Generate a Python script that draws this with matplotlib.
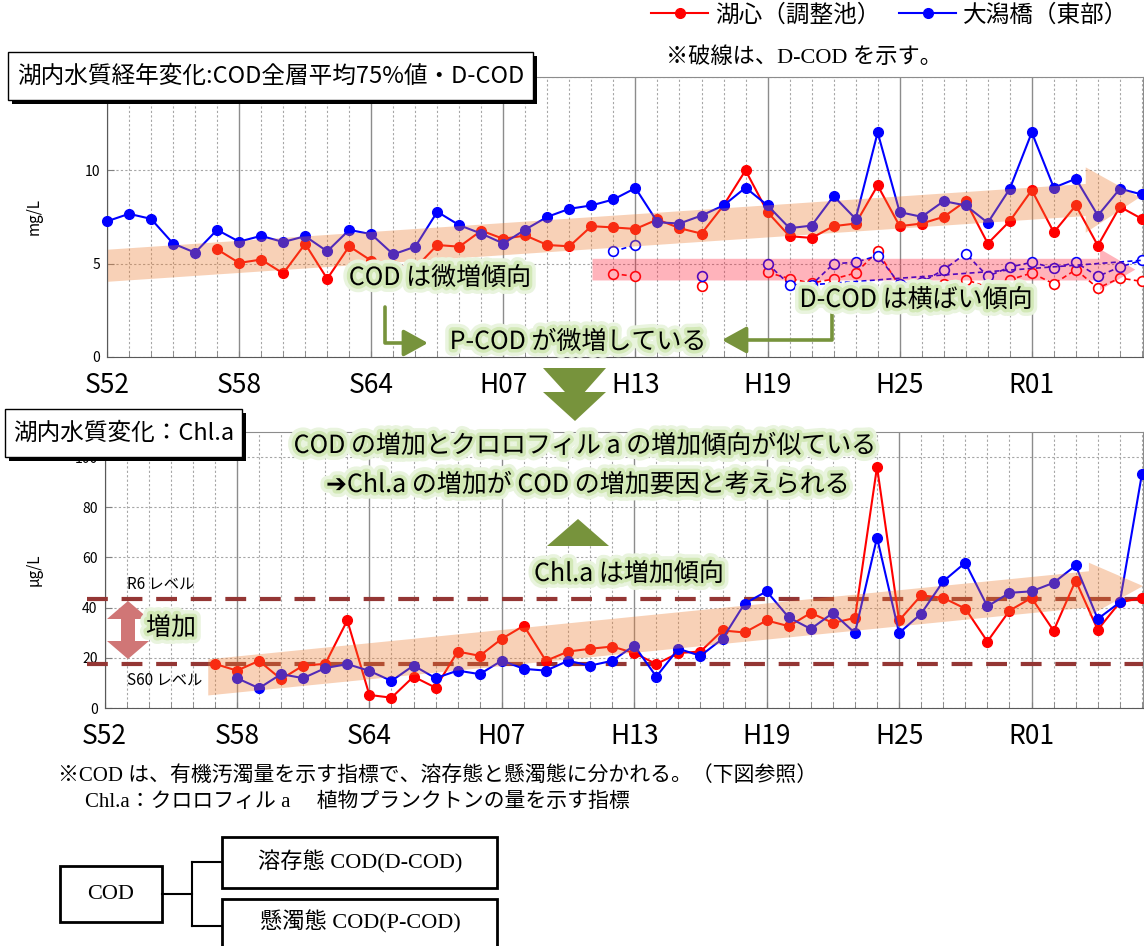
import numpy as np
import matplotlib.pyplot as plt
import matplotlib.patheffects as pe
from matplotlib.patches import Polygon, Rectangle, FancyArrowPatch

plt.rcParams['font.family'] = ['Noto Sans CJK JP', 'DejaVu Sans']
serif = ['Liberation Serif', 'Noto Sans CJK JP']

nan = np.nan
years = np.arange(1977, 2025)
tick_years = [1977, 1983, 1989, 1995, 2001, 2007, 2013, 2019]
tick_labels = ['S52', 'S58', 'S64', 'H07', 'H13', 'H19', 'H25', 'R01']
names = ['湖心（調整池）', '大潟橋（東部）']

# COD 全層平均75%値 (mg/L)
cod_red = [nan] * 5 + [5.77, 5.04, 5.22, 4.48, 6.06, 4.19, 5.93, 5.16, 4.91, 4.77,
                       6.00, 5.91, 6.77, 6.33, 6.51, 6.00, 5.93, 7.01, 6.94, 6.86,
                       7.37, 6.90, 6.61, 8.12, 10.0, 7.76, 6.47, 6.38, 7.01, 7.15,
                       9.19, 7.01, 7.15, 7.51, 8.35, 6.08, 7.28, 8.94, 6.68, 8.12,
                       5.97, 8.05, 7.40]
cod_blue = [7.27, 7.67, 7.40, 6.08, 5.59, 6.81, 6.18, 6.49, 6.16, 6.47,
            5.66, 6.81, 6.58, 5.50, 5.91, 7.78, 7.06, 6.61, 6.08, 6.83,
            7.51, 7.94, 8.12, 8.44, 9.05, 7.22, 7.15, 7.58, 8.12, 9.07,
            8.12, 6.90, 7.04, 8.62, 7.40, 12.03, 7.76, 7.51, 8.35, 8.12,
            7.19, 9.01, 12.03, 9.07, 9.55, 7.58, 9.01, 8.71]
# D-COD
dcod_red = [nan] * 23 + [4.46, 4.32, nan, nan, 3.82, nan, nan, 4.53, 4.20, 3.96,
                         4.18, 4.50, 5.66, 3.78, 3.92, 3.92, 4.14, 3.75, 4.14, 4.50,
                         3.92, 4.68, 3.69, 4.23, 4.05]
dcod_blue = [nan] * 23 + [5.66, 6.00, nan, nan, 4.32, nan, nan, 5.00, 3.87, 3.87,
                          5.00, 5.07, 5.43, 3.92, 4.00, 4.68, 5.54, 4.32, 4.82, 5.07,
                          4.77, 5.07, 4.32, 4.82, 5.18]
# Chl.a (μg/L)
chl_red = [nan] * 5 + [17.6, 14.9, 18.8, 11.5, 16.9, 17.6, 34.9, 5.2, 4.1, 12.5,
                       8.1, 22.5, 20.8, 27.6, 32.8, 18.8, 22.5, 23.6, 24.5, 21.9,
                       17.5, 21.9, 22.5, 30.9, 30.1, 34.9, 32.6, 37.9, 33.9, 35.9,
                       96.1, 34.9, 44.9, 43.9, 39.6, 26.5, 38.8, 43.9, 30.8, 50.8,
                       31.2, 42.1, 43.9]
chl_blue = [nan] * 6 + [11.9, 7.9, 13.5, 11.9, 15.9, 17.5, 14.8, 10.8, 16.9, 11.9,
                        14.9, 13.5, 18.9, 15.6, 14.9, 18.8, 16.9, 18.8, 24.9, 12.5,
                        23.6, 20.8, 27.6, 41.6, 46.5, 36.1, 31.5, 37.9, 29.9, 67.9,
                        29.9, 37.6, 50.5, 57.9, 40.5, 45.9, 46.5, 49.9, 56.8, 35.5,
                        42.1, 93.2]
r6_level = 43.6
s60_level = 17.6

W, H = 1144, 946
fig = plt.figure(figsize=(W / 100, H / 100), dpi=100)


def fp(x, y):
    return (x / W, 1 - y / H)


def ftext(x, y, s, **kw):
    kw.setdefault('ha', 'center')
    kw.setdefault('va', 'center')
    return fig.text(x / W, 1 - y / H, s, **kw)


def fpoly(pts, **kw):
    p = Polygon([fp(*q) for q in pts], closed=True, transform=fig.transFigure, **kw)
    fig.add_artist(p)


def frect(x0, y0, x1, y1, **kw):
    r = Rectangle(fp(x0, y1), (x1 - x0) / W, (y1 - y0) / H, transform=fig.transFigure, **kw)
    fig.add_artist(r)


glow = [pe.Stroke(linewidth=10, foreground='#e9f4de'),
        pe.Stroke(linewidth=5, foreground='#d2e8b6'), pe.Normal()]
green = '#77933c'


def style_axes(ax, ylim, yticks, ylabels):
    ax.set_xlim(1977, 2024.05)
    ax.set_ylim(*ylim)
    ax.set_yticks(yticks)
    ax.set_yticklabels(ylabels)
    ax.set_xticks(tick_years)
    ax.set_xticklabels(tick_labels)
    ax.set_xticks(years, minor=True)
    ax.grid(which='minor', axis='x', color='#a6a6a6', lw=0.8, ls=(0, (2, 2)))
    ax.grid(which='major', axis='x', color='#8c8c8c', lw=1.0, ls='-')
    ax.grid(which='major', axis='y', color='#a6a6a6', lw=0.8, ls=(0, (2, 2)))
    ax.tick_params(axis='x', which='both', direction='in', length=4, color='#808080',
                   labelsize=19, pad=11)
    ax.tick_params(axis='y', direction='in', length=5, color='#808080', labelsize=10, pad=5)
    for s in ax.spines.values():
        s.set_color('#8c8c8c')
    ax.spines['left'].set_color('#595959')
    ax.spines['bottom'].set_color('#595959')
    ax.set_axisbelow(True)


def trend_arrow(ax, x0, y0, xh, yh, xt, yt, bw, hw, color, alpha):
    pts = [(x0, y0 - bw), (xh, yh - bw), (xh, yh - hw), (xt, yt),
           (xh, yh + hw), (xh, yh + bw), (x0, y0 + bw)]
    ax.add_patch(Polygon(pts, closed=True, facecolor=color, edgecolor='none',
                         alpha=alpha, zorder=6))


# ---- 上段: COD ----
ax1 = fig.add_axes([107 / W, 1 - 357 / H, 1036 / W, 280 / H])
style_axes(ax1, (0, 15), [0, 5, 10, 15], ['0', '5', '10', ''])
l_red, = ax1.plot(years, cod_red, color='#ff0000', lw=1.5, marker='o', ms=7,
                  clip_on=False, zorder=4, label=names[0])
l_blue, = ax1.plot(years, cod_blue, color='#0000ff', lw=1.5, marker='o', ms=7,
                   clip_on=False, zorder=5, label=names[1])
ax1.plot(years, dcod_red, color='#ff0000', lw=1.2, ls=(0, (3, 2)), marker='o', ms=7,
         mfc='white', mew=1.2, clip_on=False, zorder=4)
ax1.plot(years, dcod_blue, color='#0000ff', lw=1.2, ls=(0, (3, 2)), marker='o', ms=7,
         mfc='white', mew=1.2, clip_on=False, zorder=5)
# 大潟橋 D-COD の端点を結ぶ破線
ax1.plot([2009, 2024], [dcod_blue[2009 - 1977], dcod_blue[-1]], color='#0000ff',
         lw=1.2, ls=(0, (3, 2)), zorder=5)
ax1.set_ylabel('mg/L', fontsize=11)
ax1.yaxis.set_label_coords(-0.062, 0.5)
trend_arrow(ax1, 1977.05, 4.89, 2021.45, 8.41, 2023.9, 8.55, 0.86, 1.75, '#ed7d31', 0.35)
trend_arrow(ax1, 1999.05, 4.68, 2022.1, 4.68, 2023.7, 4.68, 0.58, 1.1, '#ff1a33', 0.33)

# ---- 下段: Chl.a ----
ax2 = fig.add_axes([104.5 / W, 1 - 708 / H, 1038.5 / W, 276 / H])
style_axes(ax2, (0, 110), [0, 20, 40, 60, 80, 100], ['0', '20', '40', '60', '80', '100'])
ax2.plot(years, chl_red, color='#ff0000', lw=1.5, marker='o', ms=7, clip_on=False, zorder=4)
ax2.plot(years, chl_blue, color='#0000ff', lw=1.5, marker='o', ms=7, clip_on=False, zorder=5)
ax2.set_ylabel('μg/L', fontsize=11)
ax2.yaxis.set_label_coords(-0.06, 0.5)
for lv in (r6_level, s60_level):
    ax2.plot([1976.2, 2024.05], [lv, lv], color='#943634', lw=3, ls=(0, (5, 3.3)),
             clip_on=False, zorder=3)
trend_arrow(ax2, 1981.7, 12.2, 2021.6, 47.3, 2024.05, 48.6, 7.2, 10.6, '#ed7d31', 0.35)
ax2.text(1978.0, r6_level + 2.5, 'R6 レベル', fontsize=11, va='bottom')
ax2.text(1978.0, s60_level - 3, 'S60 レベル', fontsize=11, va='top')

# 増加 の両矢印
fpoly([(128, 601), (149, 619), (135, 619), (135, 641), (149, 641), (128, 659),
       (107, 641), (121, 641), (121, 619), (107, 619)], facecolor='#d07676', edgecolor='none')
ftext(171, 628, '増加', fontsize=18, path_effects=glow)

# タイトルボックス
for (x0, y0, x1, y1, s) in [(8, 52, 533, 100, '湖内水質経年変化:COD全層平均75%値・D-COD'),
                             (5, 409, 242, 457, '湖内水質変化：Chl.a')]:
    frect(x0 + 4, y0 + 4, x1 + 4, y1 + 4, facecolor='black', edgecolor='none')
    frect(x0, y0, x1, y1, facecolor='white', edgecolor='black', lw=1)
    ftext((x0 + x1) / 2, (y0 + y1) / 2, s, fontsize=17)

# 凡例
fig.legend(handles=[l_red, l_blue], labels=names, loc='upper right',
           bbox_to_anchor=(1132 / W, 1.0), ncol=2, frameon=False, fontsize=17,
           handlelength=2.4, columnspacing=0.8, handletextpad=0.3, borderpad=0.15,
           borderaxespad=0)
ftext(804, 58, '※破線は、D-COD を示す。', fontsize=16, family=serif)

# 注釈
ftext(440, 278, 'COD は微増傾向', fontsize=18, path_effects=glow)
ftext(916, 300, 'D-COD は横ばい傾向', fontsize=18, path_effects=glow)
ftext(578, 342, 'P-COD が微増している', fontsize=18, path_effects=glow)
ftext(585, 446, 'COD の増加とクロロフィル a の増加傾向が似ている', fontsize=18, path_effects=glow)
ftext(588, 485, '➔Chl.a の増加が COD の増加要因と考えられる', fontsize=18, path_effects=glow)
ftext(629, 574, 'Chl.a は増加傾向', fontsize=18, path_effects=glow)

for a, b, cs in [((385, 307), (428, 343), 'angle,angleA=90,angleB=0,rad=0'),
                 ((832, 300), (722, 340), 'angle,angleA=90,angleB=0,rad=0')]:
    fig.add_artist(FancyArrowPatch(fp(*a), fp(*b), transform=fig.transFigure,
                                   connectionstyle=cs, arrowstyle='-|>,head_length=1.0,head_width=0.55',
                                   mutation_scale=15, color=green, lw=2.6, shrinkA=0, shrinkB=0))

# 下向き・上向きの矢印
fpoly([(543, 368), (606, 368), (575, 403)], facecolor=green, edgecolor='none')
fpoly([(543, 392), (606, 392), (575, 421)], facecolor=green, edgecolor='none')
fpoly([(547, 546), (609, 546), (578, 519)], facecolor=green, edgecolor='none')

# 下部の説明
fig.text(58 / W, fp(0, 776)[1], '※COD は、有機汚濁量を示す指標で、溶存態と懸濁態に分かれる。（下図参照）',
         fontsize=15, va='center', family=serif)
fig.text(85 / W, fp(0, 802)[1], 'Chl.a：クロロフィル a　 植物プランクトンの量を示す指標',
         fontsize=15, va='center', family=serif)

frect(60, 866, 162, 922, facecolor='white', edgecolor='black', lw=2)
ftext(111, 894, 'COD', fontsize=16, family=serif)
frect(222, 837, 497, 888, facecolor='white', edgecolor='black', lw=2)
ftext(360, 862, '溶存態 COD(D-COD)', fontsize=16, family=serif)
frect(222, 899, 497, 952, facecolor='white', edgecolor='black', lw=2)
ftext(360, 922, '懸濁態 COD(P-COD)', fontsize=16, family=serif)
for seg in [[(162, 894), (192, 894)], [(192, 862), (192, 926)],
            [(192, 862), (222, 862)], [(192, 926), (222, 926)]]:
    xs, ys = zip(*[fp(*q) for q in seg])
    fig.add_artist(plt.Line2D(xs, ys, transform=fig.transFigure, color='black', lw=1.5))

fig.savefig('out.png', dpi=100)
